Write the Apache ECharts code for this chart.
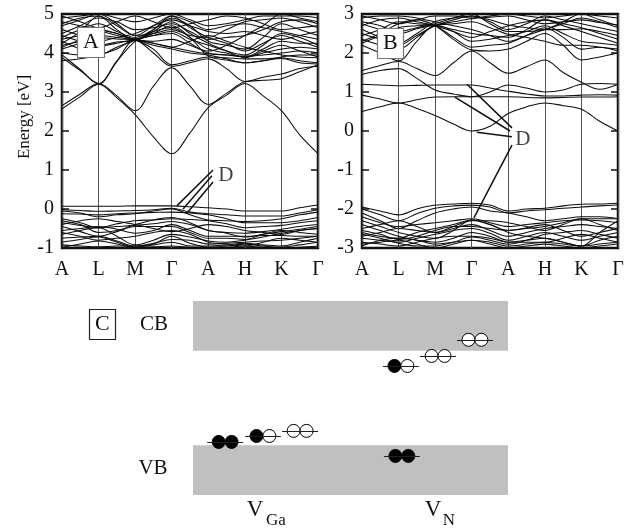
<!DOCTYPE html>
<html>
<head>
<meta charset="utf-8">
<script src="https://cdn.jsdelivr.net/npm/echarts@6/dist/echarts.min.js"></script>
<style>html,body{margin:0;padding:0;background:#fff}#c{width:633px;height:530px}</style>
</head>
<body>
<div id="c"></div>
<script>
// ---- k-path ----
const kLabels = ['A','L','M','Γ','A','H','K','Γ'];
const kGrid = [0,0.5,1,1.5,2,2.5,3,3.5,4,4.5,5,5.5,6,6.5,7];

// ---- Panel A (V_Ga) bands, energies at kGrid ----
const bandsA = [
  [2.57,2.88,3.20,2.85,2.42,1.85,1.42,1.95,2.60,2.92,3.22,2.90,2.52,1.90,1.42],
  [2.65,2.95,3.22,2.90,2.52,3.15,3.62,3.15,2.68,2.97,3.26,3.30,3.34,3.52,3.70],
  [3.88,3.55,3.22,3.80,4.33,4.00,3.66,3.75,3.85,3.60,3.27,3.38,3.46,3.60,3.66],
  [3.95,3.58,3.20,3.78,4.30,4.50,4.70,4.40,3.92,3.82,3.75,3.80,3.86,3.75,3.72],
  [4.10,4.25,4.40,4.36,4.33,4.10,3.70,3.80,3.90,3.88,3.85,3.85,3.88,3.80,3.75],
  [4.25,4.55,4.95,4.60,4.33,4.55,4.80,4.50,4.25,4.05,3.88,4.05,4.20,4.05,3.90],
  [4.30,4.10,3.95,4.15,4.33,4.45,4.55,4.35,4.20,4.05,3.95,4.20,4.50,4.40,4.20],
  [4.40,4.60,4.75,4.55,4.40,4.60,4.90,4.70,4.30,4.20,4.10,4.40,4.75,4.60,4.45],
  [4.50,4.70,4.90,4.80,4.60,4.65,4.75,4.55,4.35,4.40,4.45,4.60,4.80,4.85,4.75],
  [4.70,4.85,5.00,4.75,4.45,4.50,4.60,4.45,4.40,4.60,4.80,4.85,4.90,4.80,4.65],
  [4.80,4.70,4.60,4.50,4.33,4.30,4.35,4.20,4.05,4.20,4.45,4.70,5.00,4.90,4.80],
  [4.90,4.95,5.00,4.90,4.80,4.90,5.00,4.85,4.70,4.75,4.85,4.95,4.95,4.95,4.90],
  [4.20,4.30,4.45,4.40,4.36,4.45,4.50,4.25,4.00,3.95,3.90,4.00,4.10,4.15,4.10],
  [4.00,3.95,4.15,4.25,4.33,4.20,4.10,4.00,3.95,3.85,3.75,3.80,3.90,3.95,3.95],
  [4.60,4.45,4.30,4.40,4.50,4.70,4.85,4.70,4.55,4.50,4.55,4.45,4.35,4.45,4.55],
  [4.95,4.80,4.65,4.80,4.95,4.80,4.65,4.75,4.85,4.95,4.90,4.75,4.60,4.65,4.70],
  [4.35,4.45,4.55,4.45,4.36,4.25,4.15,4.30,4.45,4.30,4.15,4.05,3.95,3.90,3.88],
  [4.15,4.35,4.60,4.50,4.36,4.60,4.95,4.65,4.40,4.25,4.05,4.25,4.45,4.30,4.15],
  [4.45,4.30,4.20,4.28,4.33,4.55,4.65,4.40,4.10,4.00,3.90,4.10,4.30,4.25,4.25],
  [4.75,4.90,4.95,4.70,4.45,4.70,4.95,4.80,4.60,4.70,4.75,4.65,4.55,4.45,4.35],
  [3.80,3.85,3.95,4.10,4.33,4.25,4.15,4.05,3.98,3.95,3.92,3.95,4.00,4.05,4.00],
  [0.07,0.07,0.07,0.07,0.08,0.08,0.08,0.06,0.03,0.00,-0.05,-0.05,-0.05,0.03,0.10],
  [-0.02,-0.04,-0.06,-0.05,-0.04,-0.02,0.02,-0.08,-0.12,-0.15,-0.18,-0.18,-0.18,-0.10,-0.02],
  [-0.12,-0.13,-0.15,-0.12,-0.10,-0.09,-0.08,-0.10,-0.15,-0.25,-0.35,-0.35,-0.35,-0.30,-0.22],
  [-0.25,-0.35,-0.48,-0.38,-0.30,-0.28,-0.25,-0.27,-0.30,-0.38,-0.48,-0.45,-0.42,-0.35,-0.30],
  [-0.35,-0.42,-0.48,-0.45,-0.42,-0.38,-0.32,-0.40,-0.55,-0.62,-0.72,-0.65,-0.58,-0.52,-0.45],
  [-0.45,-0.58,-0.70,-0.58,-0.45,-0.45,-0.45,-0.60,-0.75,-0.75,-0.78,-0.65,-0.55,-0.60,-0.65],
  [-0.55,-0.50,-0.45,-0.52,-0.62,-0.55,-0.40,-0.55,-0.70,-0.70,-0.70,-0.68,-0.68,-0.70,-0.70],
  [-0.65,-0.55,-0.48,-0.70,-0.92,-0.80,-0.65,-0.72,-0.82,-0.85,-0.80,-0.72,-0.62,-0.55,-0.50],
  [-0.75,-0.72,-0.70,-0.82,-0.95,-0.88,-0.78,-0.80,-0.90,-0.88,-0.85,-0.82,-0.80,-0.75,-0.70],
  [-0.85,-0.78,-0.72,-0.85,-0.98,-0.92,-0.85,-0.95,-0.95,-0.92,-0.88,-0.92,-0.95,-0.85,-0.75],
  [-0.92,-0.95,-0.97,-0.95,-0.95,-0.90,-0.70,-0.88,-0.98,-0.95,-0.90,-0.95,-0.98,-0.92,-0.85],
  [-0.98,-0.90,-0.82,-0.90,-0.98,-0.97,-0.95,-0.98,-1.00,-0.98,-0.95,-0.98,-1.00,-0.98,-0.95],
  [-0.30,-0.40,-0.60,-0.55,-0.40,-0.28,-0.22,-0.35,-0.55,-0.60,-0.62,-0.58,-0.52,-0.45,-0.40],
  [-0.05,-0.10,-0.20,-0.15,-0.12,-0.05,0.00,-0.15,-0.28,-0.30,-0.32,-0.30,-0.25,-0.15,-0.08],
  [-0.60,-0.70,-0.80,-0.75,-0.70,-0.60,-0.55,-0.65,-0.85,-0.90,-0.95,-0.85,-0.75,-0.80,-0.85],
  [-0.40,-0.30,-0.25,-0.32,-0.40,-0.50,-0.58,-0.50,-0.40,-0.45,-0.55,-0.60,-0.65,-0.55,-0.50]
];

// ---- Panel B (V_N) bands ----
const bandsB = [
  [0.50,0.62,0.72,0.58,0.40,0.18,0.00,0.12,0.45,0.62,0.72,0.65,0.56,0.25,0.00],
  [0.92,0.82,0.72,0.80,0.87,0.88,0.88,0.88,0.88,0.86,0.85,0.86,0.87,0.87,0.88],
  [1.20,1.18,1.16,1.17,1.18,1.18,1.18,1.10,1.02,0.95,0.90,0.90,0.92,0.93,0.92],
  [1.45,1.55,1.60,1.35,1.05,0.95,0.88,1.00,1.18,1.10,1.00,1.05,1.20,1.22,1.20],
  [1.55,1.68,1.78,1.60,1.42,1.75,2.05,1.75,1.48,1.65,1.82,1.50,1.25,1.07,1.20],
  [2.30,2.50,2.75,2.85,2.70,2.35,2.08,2.05,2.10,2.30,2.50,2.20,1.82,1.90,2.00],
  [2.45,2.60,2.80,2.75,2.70,2.40,2.15,2.20,2.25,2.45,2.65,2.40,2.10,2.15,2.05],
  [2.20,2.00,1.80,2.30,2.70,2.60,2.50,2.45,2.40,2.60,2.85,2.70,2.55,2.40,2.25],
  [2.60,2.40,2.20,2.45,2.70,2.85,2.95,2.80,2.60,2.75,2.95,2.85,2.75,2.65,2.55],
  [2.80,2.70,2.55,2.65,2.75,2.90,3.00,2.75,2.55,2.55,2.60,2.80,3.00,2.85,2.70],
  [2.90,2.95,2.95,2.90,2.80,2.70,2.60,2.45,2.30,2.45,2.60,2.75,2.90,2.80,2.65],
  [2.70,2.85,2.90,2.80,2.70,2.55,2.40,2.55,2.70,2.80,2.85,2.75,2.65,2.50,2.35],
  [2.35,2.20,2.10,2.40,2.70,2.75,2.80,2.65,2.48,2.40,2.30,2.20,2.20,2.15,2.10],
  [2.95,2.85,2.75,2.85,2.95,2.95,2.90,2.95,3.00,2.95,2.90,2.95,3.00,2.95,2.90],
  [2.50,2.35,2.25,2.50,2.80,2.90,2.95,2.85,2.72,2.65,2.60,2.60,2.62,2.55,2.45],
  [2.25,2.45,2.65,2.70,2.72,2.55,2.30,2.35,2.45,2.55,2.70,2.50,2.30,2.25,2.20],
  [2.75,2.60,2.50,2.62,2.72,2.80,2.88,2.92,2.95,2.85,2.75,2.80,2.85,2.78,2.72],
  [-1.95,-2.05,-2.15,-2.00,-1.90,-1.87,-1.85,-1.90,-2.05,-2.00,-1.98,-1.92,-1.88,-1.87,-1.85],
  [-2.00,-2.15,-2.30,-2.12,-1.98,-1.92,-1.90,-1.95,-2.10,-2.05,-2.02,-1.98,-1.95,-1.92,-1.90],
  [-2.10,-2.30,-2.50,-2.30,-2.10,-2.00,-1.95,-2.05,-2.10,-2.20,-2.30,-2.25,-2.20,-2.20,-2.25],
  [-2.50,-2.40,-2.30,-2.45,-2.60,-2.45,-2.30,-2.30,-2.35,-2.45,-2.55,-2.40,-2.25,-2.25,-2.25],
  [-2.60,-2.70,-2.75,-2.60,-2.50,-2.40,-2.28,-2.40,-2.60,-2.70,-2.75,-2.85,-2.95,-2.60,-2.30],
  [-2.70,-2.60,-2.50,-2.55,-2.60,-2.50,-2.40,-2.55,-2.70,-2.60,-2.50,-2.45,-2.40,-2.45,-2.50],
  [-2.75,-2.80,-2.85,-2.75,-2.65,-2.55,-2.50,-2.62,-2.80,-2.70,-2.60,-2.70,-2.80,-2.70,-2.60],
  [-2.85,-2.90,-2.95,-2.85,-2.75,-2.70,-2.70,-2.75,-2.85,-2.80,-2.75,-2.85,-2.95,-2.80,-2.70],
  [-2.90,-2.85,-2.80,-2.90,-3.00,-2.90,-2.80,-2.85,-2.95,-2.90,-2.85,-2.90,-2.95,-2.90,-2.85],
  [-2.30,-2.45,-2.60,-2.70,-2.75,-2.55,-2.28,-2.40,-2.55,-2.50,-2.45,-2.35,-2.25,-2.40,-2.55],
  [-2.95,-2.80,-2.75,-2.80,-2.90,-2.85,-2.80,-2.90,-3.00,-2.95,-2.90,-2.95,-3.00,-2.95,-2.90],
  [-2.55,-2.65,-2.78,-2.70,-2.55,-2.45,-2.45,-2.50,-2.55,-2.48,-2.40,-2.55,-2.70,-2.60,-2.50],
  [-2.40,-2.55,-2.70,-2.80,-2.85,-2.75,-2.60,-2.70,-2.85,-2.85,-2.85,-2.75,-2.65,-2.75,-2.85],
  [-2.65,-2.75,-2.88,-2.95,-2.95,-2.85,-2.72,-2.80,-2.90,-2.80,-2.65,-2.60,-2.55,-2.65,-2.75],
  [-2.20,-2.35,-2.45,-2.40,-2.35,-2.30,-2.25,-2.35,-2.45,-2.40,-2.35,-2.30,-2.28,-2.30,-2.35]
];

// ---- "D" annotation pointers: [k, E] start -> end ----
const dLinesA = [[[3.14,0.08],[4.13,1.00]],[[3.31,0.00],[4.10,0.85]],[[3.42,-0.10],[4.13,0.69]]];
const dLabelA = [4.48, 0.87];
const dLinesB = [[[2.87,1.20],[4.10,0.08]],[[2.54,0.87],[4.05,0.00]],[[3.14,-0.03],[4.10,-0.15]],[[4.10,-0.36],[3.06,-2.23]]];
const dLabelB = [4.40, -0.23];

// ---- Panel C: defect levels (schematic energies, VB top = 0, CB bottom = 3.5) ----
const cbRange = [3.5, 5.35];
const vbRange = [-1.85, 0];
const levelPos  = [10.2, 22.2, 34.0, 66.3, 66.0, 77.8, 89.5];   // horizontal slot centers
const levelE    = [0.12, 0.34, 0.53, -0.40, 2.94, 3.31, 3.91];  // level energies
const levelOcc  = [[1,1],[1,0],[0,0],[1,1],[1,0],[0,0],[0,0]];  // 1 = filled electron
const levelHalf = 5.7;
const dotOff = 2.05;

const serif = 'Liberation Serif, Times New Roman, serif';
const ink = '#111';

function bandSeries(bands, gi) {
  return bands.map(b => ({
    type: 'line', xAxisIndex: gi, yAxisIndex: gi * 2, showSymbol: false, smooth: 0.35,
    silent: true, animation: false, clip: true,
    lineStyle: { color: '#0d0d0d', width: 1.05 },
    data: b.map((e, i) => [kGrid[i], e])
  }));
}
function pointerSeries(lines, gi) {
  return {
    type: 'lines', coordinateSystem: 'cartesian2d', xAxisIndex: gi, yAxisIndex: gi * 2,
    silent: true, animation: false, z: 5,
    lineStyle: { color: '#111', width: 1.5, opacity: 1 },
    data: lines.map(l => ({ coords: l }))
  };
}
function labelSeries(pt, gi) {
  return {
    type: 'scatter', xAxisIndex: gi, yAxisIndex: gi * 2, symbolSize: 0, silent: true, z: 6,
    data: [pt],
    label: { show: true, position: 'inside', formatter: 'D', fontFamily: serif, fontSize: 21, color: ink }
  };
}
function xAx(gi) {
  return {
    gridIndex: gi, type: 'value', min: 0, max: 7, interval: 1,
    axisLine: { show: false }, axisTick: { show: false },
    splitLine: { show: true, lineStyle: { color: '#555', width: 1 } },
    axisLabel: { formatter: v => kLabels[Math.round(v)], fontFamily: serif, fontSize: 20, color: ink, margin: 12 }
  };
}
function yAxPair(gi, min, max) {
  const base = {
    gridIndex: gi, type: 'value', min: min, max: max, interval: 1,
    axisLine: { show: false }, splitLine: { show: false },
    axisTick: { show: true, inside: true, length: 7, lineStyle: { color: ink, width: 1.5 } }
  };
  return [
    Object.assign({}, base, {
      position: 'left',
      axisLabel: { fontFamily: serif, fontSize: 20, color: ink, margin: 8 }
    }),
    Object.assign({}, base, { position: 'right', axisLabel: { show: false } })
  ];
}

// Panel C series
const dotsFilled = [], dotsOpen = [], levelLines = [];
levelPos.forEach((x, i) => {
  const e = levelE[i];
  levelLines.push({ coords: [[x - levelHalf, e], [x + levelHalf, e]] });
  [x - dotOff, x + dotOff].forEach((dx, j) => {
    (levelOcc[i][j] ? dotsFilled : dotsOpen).push([dx, e]);
  });
});

const boxTitle = (t, l, tp, bc) => ({
  text: t, left: l, top: tp, padding: [4, 6], borderColor: bc, borderWidth: 1.2, backgroundColor: '#fff',
  textStyle: { fontFamily: serif, fontSize: 22, fontWeight: 'normal', color: ink, lineHeight: 23 }
});
const txt = (s, x, y, size) => ({
  type: 'text', x: x, y: y, silent: true,
  style: { text: s, font: size + 'px ' + serif, fill: ink, align: 'center', verticalAlign: 'middle' }
});

const option = {
  animation: false,
  backgroundColor: '#fff',
  title: [
    boxTitle('A', 77, 27, '#777'),
    boxTitle('B', 377, 28, '#777'),
    boxTitle('C', 89, 309, '#222')
  ],
  grid: [
    { left: 62, top: 14, width: 256, height: 234, show: true, borderColor: ink, borderWidth: 2.5, backgroundColor: 'transparent' },
    { left: 362, top: 14, width: 256, height: 234, show: true, borderColor: ink, borderWidth: 2.5, backgroundColor: 'transparent' },
    { left: 193, top: 301, width: 315, height: 194, show: false }
  ],
  xAxis: [
    xAx(0), xAx(1),
    { gridIndex: 2, type: 'value', min: 0, max: 100, show: false }
  ],
  yAxis: [
    ...yAxPair(0, -1, 5),
    ...yAxPair(1, -3, 3),
    { gridIndex: 2, type: 'value', min: -1.85, max: 5.35, show: false }
  ],
  graphic: [
    Object.assign(txt('Energy [eV]', 25, 117, 17), { rotation: Math.PI / 2 }),
    txt('CB', 154, 324.5, 21),
    txt('VB', 153, 468.5, 21),
    txt('V', 255, 510, 23),
    txt('Ga', 276, 521, 17),
    txt('V', 433, 510, 23),
    txt('N', 449, 521, 17)
  ],
  series: [
    ...bandSeries(bandsA, 0),
    ...bandSeries(bandsB, 1),
    pointerSeries(dLinesA, 0), labelSeries(dLabelA, 0),
    pointerSeries(dLinesB, 1), labelSeries(dLabelB, 1),
    {
      type: 'line', xAxisIndex: 2, yAxisIndex: 4, data: [], silent: true,
      markArea: {
        silent: true, itemStyle: { color: '#c0c0c0', opacity: 1 },
        data: [
          [{ xAxis: 0, yAxis: cbRange[0] }, { xAxis: 100, yAxis: cbRange[1] }],
          [{ xAxis: 0, yAxis: vbRange[0] }, { xAxis: 100, yAxis: vbRange[1] }]
        ]
      }
    },
    {
      type: 'scatter', xAxisIndex: 2, yAxisIndex: 4, symbol: 'circle', symbolSize: 13, z: 3, silent: true,
      itemStyle: { color: '#000', borderColor: '#000', borderWidth: 1, opacity: 1 }, data: dotsFilled
    },
    {
      type: 'scatter', xAxisIndex: 2, yAxisIndex: 4, symbol: 'circle', symbolSize: 13, z: 3, silent: true,
      itemStyle: { color: '#fff', borderColor: '#000', borderWidth: 1, opacity: 1 }, data: dotsOpen
    },
    {
      type: 'lines', coordinateSystem: 'cartesian2d', xAxisIndex: 2, yAxisIndex: 4, z: 4, silent: true,
      lineStyle: { color: '#222', width: 1, opacity: 1 }, data: levelLines
    }
  ]
};
const chart = echarts.init(document.getElementById('c'), null, { renderer: 'canvas' });
chart.setOption(option);
</script>
</body>
</html>
